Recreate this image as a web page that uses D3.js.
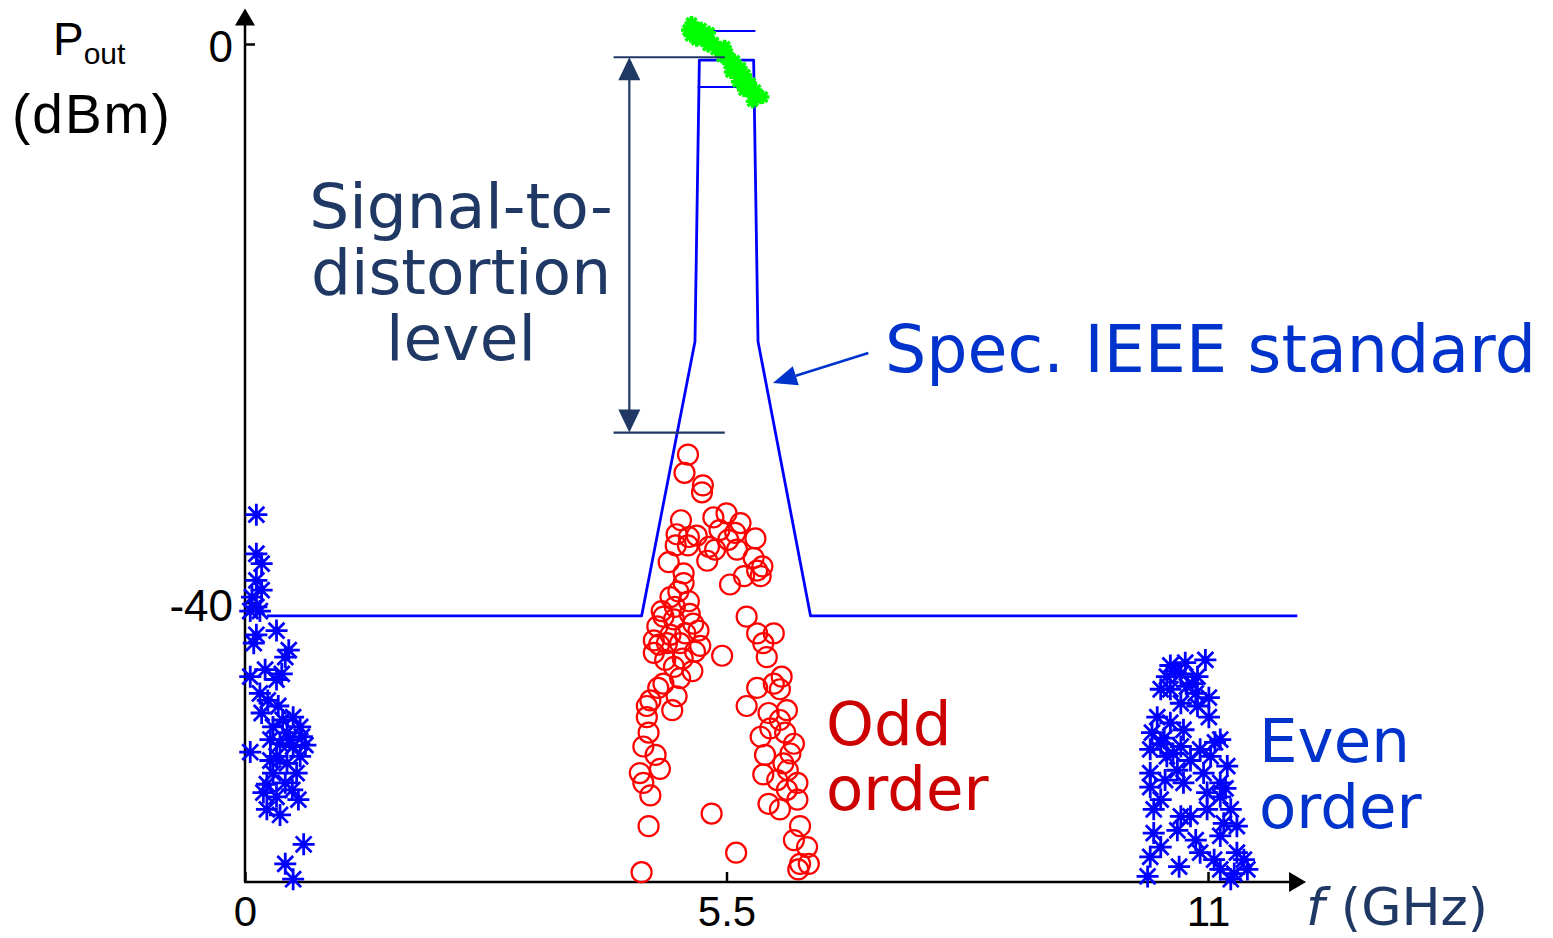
<!DOCTYPE html>
<html>
<head>
<meta charset="utf-8">
<script src="https://cdn.jsdelivr.net/npm/d3@7"></script>
<style>
  html, body { margin: 0; padding: 0; background: #fff; }
  svg { display: block; }
</style>
</head>
<body>
<div id="chart"></div>
<script>
// ========== Data ==========
const fTicks = [0, 5.5, 11];
const pTicks = [0, -40];

// spectral mask (IEEE spec), f in GHz, P in dBm
const maskF = [0.25, 4.53, 5.14, 5.19, 5.81, 5.86, 6.46, 12.02];
const maskP = [-40.95, -40.95, -21.3, -1.15, -1.15, -21.3, -40.95, -40.95];
// short bars across the top of the mask
const maskBarF = [5.17, 5.83];
const maskBarP = [0.93, -3.08];

// fundamental (green)
const fundamental = [
  [5.06, 1.0], [5.13, 1.2], [5.09, 0.6], [5.18, 0.8], [5.21, 1.1], [5.22, 0.3],
  [5.27, 0.5], [5.29, -0.1], [5.35, 0.1], [5.38, -0.4], [5.43, -0.3], [5.45, -0.9],
  [5.51, -0.7], [5.53, -1.4], [5.59, -1.2], [5.60, -1.9], [5.66, -1.7], [5.67, -2.4],
  [5.71, -2.2], [5.73, -2.9], [5.77, -2.8], [5.77, -3.4], [5.83, -3.3], [5.84, -3.9],
  [5.91, -3.8], [5.10, 1.5], [5.16, 0.3], [5.30, 0.8], [5.48, -0.2], [5.55, -2.0],
  [5.63, -2.7], [5.70, -3.3], [5.80, -4.1]
];

// odd-order products (red circles)
const oddOrder = [
  [5.06, -29.4], [5.02, -30.7], [5.23, -31.6], [5.22, -32.1], [4.98, -34.1], [5.35, -33.9],
  [5.50, -33.6], [5.66, -34.3], [5.83, -35.4], [4.93, -35.1], [5.07, -35.3], [5.16, -35.2],
  [4.92, -35.9], [5.06, -35.9], [5.30, -36.0], [5.37, -36.2], [5.52, -35.5], [5.62, -36.2],
  [4.84, -37.1], [5.28, -37.0], [5.81, -36.8], [5.91, -37.4], [5.85, -37.7], [5.89, -38.1],
  [5.70, -38.1], [5.54, -38.7], [5.01, -37.9], [5.01, -38.6], [4.86, -39.6], [5.07, -39.9],
  [4.91, -40.3], [4.78, -41.0], [4.71, -41.7], [4.90, -41.2], [5.12, -41.5], [5.18, -42.0],
  [5.03, -42.2], [4.67, -42.7], [4.82, -42.9], [4.67, -43.6], [4.80, -44.1], [4.97, -42.9],
  [5.20, -43.1], [5.14, -43.5], [4.90, -44.6], [5.11, -44.9], [4.97, -45.4], [4.78, -45.8],
  [4.72, -46.1], [4.93, -46.7], [4.63, -47.0], [4.59, -47.4], [4.88, -47.7], [4.59, -48.2],
  [4.61, -49.3], [4.55, -50.3], [4.69, -50.9], [4.74, -51.9], [4.51, -52.2], [4.55, -52.9],
  [4.63, -53.8], [4.61, -56.0], [4.53, -59.3], [5.45, -43.8], [5.33, -55.1], [5.61, -57.9],
  [5.73, -41.0], [5.85, -42.2], [6.04, -42.2], [5.92, -42.9], [5.96, -43.9], [5.85, -46.1],
  [6.04, -45.8], [6.13, -45.3], [6.11, -46.2], [5.73, -47.4], [5.98, -47.9], [6.19, -47.7],
  [6.11, -48.4], [5.89, -49.6], [6.17, -49.3], [6.27, -50.1], [6.23, -50.8], [5.94, -50.9],
  [6.15, -51.5], [5.92, -52.3], [6.08, -52.7], [6.31, -52.9], [6.19, -53.4], [5.98, -54.4],
  [6.11, -54.8], [6.31, -54.1], [6.34, -56.0], [6.27, -57.0], [6.42, -57.5], [6.34, -58.7],
  [6.44, -58.7], [6.32, -59.1], [4.76, -40.6], [4.95, -39.2], [5.08, -40.8], [4.73, -43.0],
  [4.86, -42.3], [5.00, -44.0], [5.60, -35.0], [5.42, -34.8], [6.00, -49.0], [6.20, -52.0]
];

// even-order products near DC (blue stars)
const evenLow = [
  [0.13, -33.7], [0.13, -36.5], [0.19, -37.2], [0.13, -38.4], [0.19, -39.1], [0.08, -39.6],
  [0.13, -40.3], [0.17, -40.6], [0.06, -40.6], [0.36, -42.0], [0.10, -42.9], [0.50, -43.4],
  [0.46, -43.9], [0.06, -45.3], [0.23, -44.8], [0.42, -45.1], [0.36, -45.5], [0.17, -46.5],
  [0.19, -47.9], [0.38, -47.4], [0.55, -48.2], [0.63, -48.9], [0.32, -48.9], [0.48, -49.3],
  [0.65, -49.6], [0.40, -50.1], [0.06, -50.7], [0.55, -50.3], [0.36, -51.0], [0.63, -51.0],
  [0.48, -51.5], [0.32, -52.2], [0.59, -52.2], [0.25, -53.0], [0.46, -52.9], [0.21, -53.6],
  [0.36, -53.9], [0.61, -54.1], [0.25, -54.8], [0.67, -57.3], [0.46, -58.7], [0.55, -59.8],
  [0.29, -49.8], [0.51, -49.8], [0.43, -48.4], [0.69, -50.2], [0.29, -51.3], [0.54, -53.4],
  [0.40, -55.2], [0.13, -42.3], [0.26, -47.0]
];

// even-order products near 2f (blue stars)
const evenHigh = [
  [10.57, -44.5], [10.74, -44.3], [10.97, -44.1], [10.53, -45.3], [10.69, -45.1], [10.88, -45.3],
  [10.57, -46.2], [10.76, -46.0], [11.01, -46.8], [10.69, -47.2], [10.88, -47.4], [10.42, -48.2],
  [11.01, -48.2], [10.57, -48.6], [10.36, -49.3], [10.72, -49.1], [11.14, -49.8], [10.46, -50.1],
  [10.69, -50.3], [10.91, -50.5], [11.03, -51.0], [10.53, -51.0], [11.22, -51.7], [10.34, -52.2],
  [10.65, -52.0], [10.95, -52.2], [10.72, -52.9], [11.14, -52.9], [10.34, -53.2], [10.99, -53.6],
  [10.46, -54.1], [11.14, -53.9], [10.38, -54.8], [10.99, -54.8], [10.69, -55.3], [10.80, -55.3],
  [11.18, -55.8], [11.33, -56.0], [10.38, -56.5], [10.65, -56.3], [11.14, -56.7], [10.46, -57.5],
  [10.91, -57.9], [11.33, -57.9], [10.34, -58.2], [11.07, -58.4], [10.67, -58.9], [11.41, -58.4],
  [11.14, -59.1], [10.31, -59.6], [11.30, -59.4], [11.45, -59.1], [11.26, -59.8], [10.46, -46.2],
  [10.86, -46.5], [10.34, -50.5], [10.80, -51.3], [10.51, -52.7], [11.26, -54.8], [10.86, -57.0],
  [10.62, -44.9], [10.82, -45.8], [10.50, -49.7], [10.60, -50.8], [11.08, -50.0], [11.20, -53.3]
];

// signal-to-distortion bracket: f of arrow, f range of bars, P of top/bottom bars
const sdlArrowF = 4.39;
const sdlBarF = [4.21, 5.48];
const sdlBarP = [-0.95, -27.82];
// "Spec" pointer arrow: tail and tip
const specArrowF = [7.12, 6.03];
const specArrowP = [-22.12, -24.27];

// ========== Chart ==========
const W = 1553, H = 938;
const navy = "#1f3864", specBlue = "#0033cc", oddRed = "#cc0000";

const svg = d3.select("#chart").append("svg")
  .attr("width", W).attr("height", H);

const x = d3.scaleLinear().domain([0, 11]).range([245, 1208]);
const y = d3.scaleLinear().domain([-60, 0]).range([882, 44]);

// star (asterisk) marker path
function starPath(r) {
  const d = r * 0.72;
  return `M${-r},0L${r},0M0,${-r}L0,${r}M${-d},${-d}L${d},${d}M${-d},${d}L${d},${-d}`;
}

// Axes
const xAxis = d3.axisBottom(x).tickValues(fTicks).tickFormat(d => String(d))
  .tickSizeInner(-10).tickSizeOuter(0).tickPadding(14);
const yAxis = d3.axisLeft(y).tickValues(pTicks).tickFormat(d => String(d))
  .tickSizeInner(-10).tickSizeOuter(0).tickPadding(12);

const gx = svg.append("g").attr("transform", `translate(0,${y(-60)})`).call(xAxis);
const gy = svg.append("g").attr("transform", `translate(${x(0)},0)`).call(yAxis);
[gx, gy].forEach(g => {
  g.select(".domain").remove();
  g.selectAll(".tick line").attr("stroke", "#000").attr("stroke-width", 2.5);
  g.selectAll(".tick text").attr("fill", "#000")
    .style("font-family", "'Liberation Sans', Arial, sans-serif").style("font-size", "42px");
});
gy.selectAll(".tick text").style("font-size", "44px").attr("dy", "0.4em");

// axis lines with arrowheads
const x0 = x(0), yb = y(-60), yTop = y(2.55), xEnd = x(12.12);
svg.append("line").attr("x1", x0).attr("y1", yb).attr("x2", x0).attr("y2", yTop + 10)
  .attr("stroke", "#000").attr("stroke-width", 2.5);
svg.append("line").attr("x1", x0 - 1).attr("y1", yb).attr("x2", xEnd - 10).attr("y2", yb)
  .attr("stroke", "#000").attr("stroke-width", 2.5);
svg.append("path").attr("d", `M${x0 - 10},${yTop + 17}L${x0 + 10},${yTop + 17}L${x0},${yTop}Z`).attr("fill", "#000");
svg.append("path").attr("d", `M${xEnd - 17},${yb - 10}L${xEnd - 17},${yb + 10}L${xEnd},${yb}Z`).attr("fill", "#000");

// Scatter: odd order (red circles)
svg.append("g").selectAll("circle").data(oddOrder).join("circle")
  .attr("cx", d => x(d[0])).attr("cy", d => y(d[1])).attr("r", 10)
  .attr("fill", "none").attr("stroke", "#ff0000").attr("stroke-width", 2.2);

// Even order (blue stars)
svg.append("g").selectAll("path").data(evenLow.concat(evenHigh)).join("path")
  .attr("d", starPath(11))
  .attr("transform", d => `translate(${x(d[0])},${y(d[1])})`)
  .attr("fill", "none").attr("stroke", "#0000ff").attr("stroke-width", 2.8);

// Mask line
const maskLine = d3.line().x(d => x(d[0])).y(d => y(d[1]));
svg.append("path").datum(maskF.map((f, i) => [f, maskP[i]]))
  .attr("d", maskLine).attr("fill", "none").attr("stroke", "#0000ff")
  .attr("stroke-width", 2.8).attr("stroke-linejoin", "round");
svg.append("g").selectAll("line").data(maskBarP).join("line")
  .attr("x1", x(maskBarF[0])).attr("x2", x(maskBarF[1]))
  .attr("y1", d => y(d)).attr("y2", d => y(d))
  .attr("stroke", "#0000ff").attr("stroke-width", 2.2);

// Fundamental (green)
svg.append("g").selectAll("path").data(fundamental).join("path")
  .attr("d", starPath(7))
  .attr("transform", d => `translate(${x(d[0])},${y(d[1])})`)
  .attr("fill", "none").attr("stroke", "#00ff00").attr("stroke-width", 3.5);

// Signal-to-distortion bracket
const sdl = svg.append("g").attr("stroke", navy).attr("stroke-width", 2.2);
sdlBarP.forEach(p => {
  sdl.append("line").attr("x1", x(sdlBarF[0])).attr("x2", x(sdlBarF[1]))
    .attr("y1", y(p)).attr("y2", y(p));
});
const ax = x(sdlArrowF), aTop = y(sdlBarP[0]), aBot = y(sdlBarP[1]);
sdl.append("line").attr("x1", ax).attr("x2", ax).attr("y1", aTop + 20).attr("y2", aBot - 20);
svg.append("path").attr("fill", navy)
  .attr("d", `M${ax},${aTop}L${ax - 11},${aTop + 23}L${ax + 11},${aTop + 23}Z`);
svg.append("path").attr("fill", navy)
  .attr("d", `M${ax},${aBot}L${ax - 11},${aBot - 23}L${ax + 11},${aBot - 23}Z`);

// Spec pointer arrow
const sx1 = x(specArrowF[0]), sy1 = y(specArrowP[0]);
const sx2 = x(specArrowF[1]), sy2 = y(specArrowP[1]);
const len = Math.hypot(sx2 - sx1, sy2 - sy1);
const ux = (sx2 - sx1) / len, uy = (sy2 - sy1) / len;
const bx = sx2 - ux * 24, by = sy2 - uy * 24;
svg.append("line").attr("x1", sx1).attr("y1", sy1).attr("x2", bx).attr("y2", by)
  .attr("stroke", specBlue).attr("stroke-width", 2.5);
svg.append("path").attr("fill", specBlue)
  .attr("d", `M${sx2},${sy2}L${bx - uy * 10},${by + ux * 10}L${bx + uy * 10},${by - ux * 10}Z`);

// ========== Text ==========
const sans = "'DejaVu Sans', Verdana, sans-serif";
const arial = "'Liberation Sans', Arial, sans-serif";

function label(txt, px, py, size, color, opts = {}) {
  return svg.append("text").attr("x", px).attr("y", py).text(txt)
    .attr("fill", color).attr("text-anchor", opts.anchor || "start")
    .style("font-family", opts.font || sans).style("font-size", size + "px");
}

// y-axis title
const pt = svg.append("text").attr("x", 53).attr("y", 55).attr("fill", "#000")
  .style("font-family", arial);
pt.append("tspan").text("P").style("font-size", "46px");
pt.append("tspan").attr("dy", 9).text("out").style("font-size", "30px");
label("(dBm)", 12, 133, 55, "#000", { font: arial }).style("letter-spacing", "2px");

// x-axis title
const ft = svg.append("text").attr("x", 1306).attr("y", 925).attr("fill", navy)
  .style("font-family", sans).style("font-size", "52px");
ft.append("tspan").text("f").style("font-style", "italic");
ft.append("tspan").text(" (GHz)");

["Signal-to-", "distortion", "level"].forEach((t, i) => {
  label(t, 461, 228 + i * 66, 63, navy, { anchor: "middle" });
});
label("Spec. IEEE standard", 885, 372, 65, specBlue);
label("Odd", 826, 745, 61, oddRed);
label("order", 826, 810, 61, oddRed);
label("Even", 1259, 762, 61, specBlue);
label("order", 1259, 828, 61, specBlue);
</script>
</body>
</html>
